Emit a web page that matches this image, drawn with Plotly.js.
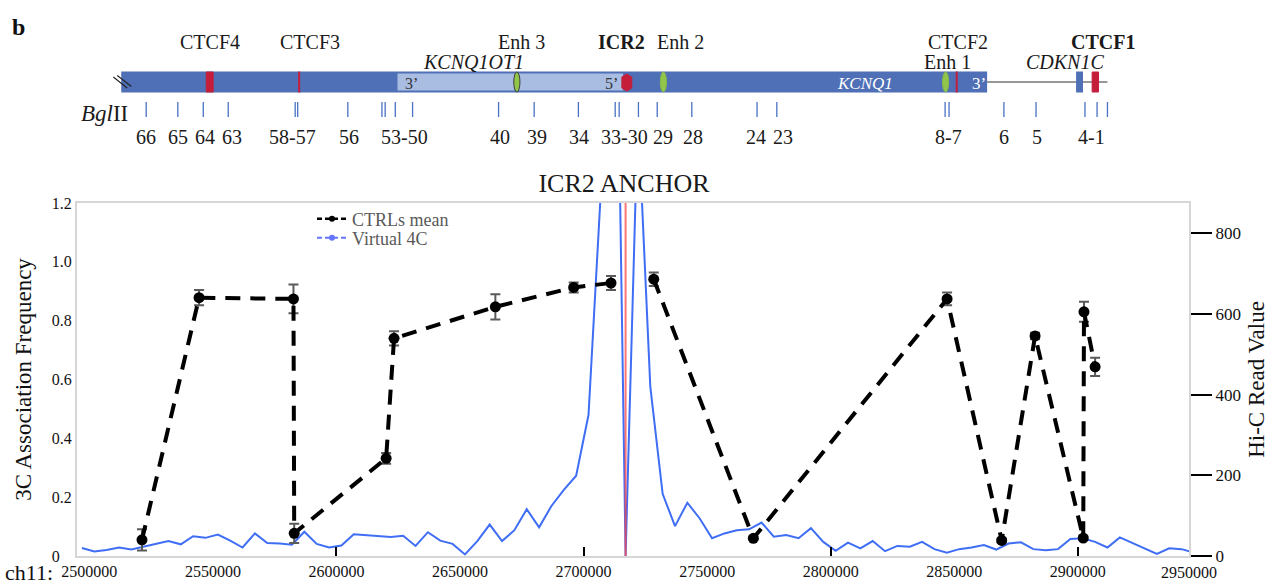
<!DOCTYPE html>
<html>
<head>
<meta charset="utf-8">
<script src="https://cdn.plot.ly/plotly-3.0.1.min.js"></script>
<style>
  html, body { margin: 0; padding: 0; background: #fff; }
  #chart { width: 1272px; height: 584px; }
</style>
</head>
<body>
<div id="chart"></div>
<script>
// ---------- 3C: mean association frequency of controls, per BglII fragment ----------
const c3cPos  = [2521300, 2544400, 2582600, 2582900, 2620100, 2623300, 2664300, 2696000, 2711100,
                 2717000, 2728400, 2768700, 2847100, 2869200, 2882700, 2902200, 2902500, 2907000];
const c3cMean = [0.055, 0.878, 0.874, 0.077, 0.332, 0.740, 0.847, 0.913, 0.928,
                 null, 0.941, 0.060, 0.874, 0.053, 0.748, 0.061, 0.830, 0.643];
const c3cErr  = [0.036, 0.026, 0.049, 0.033, 0.018, 0.024, 0.043, 0.017, 0.024,
                 null, 0.023, 0.006, 0.022, 0.006, 0.011, 0.006, 0.034, 0.031];

// ---------- Hi-C virtual 4C from the ICR2 bin (5 kb bins) ----------
const hicBins = [2497000, 2502000, 2507000, 2512000, 2517000, 2522000, 2527000, 2532000, 2537000, 2542000,
                 2547000, 2552000, 2557000, 2562000, 2567000, 2572000, 2577000, 2582000, 2587000, 2592000,
                 2597000, 2602000, 2607000, 2612000, 2617000, 2622000, 2627000, 2632000, 2637000, 2642000,
                 2647000, 2652000, 2657000, 2662000, 2667000, 2672000, 2677000, 2682000, 2687000, 2692000,
                 2697000, 2702000, 2707000, 2712000, 2717000, 2722000, 2727000, 2732000, 2737000, 2742000,
                 2747000, 2752000, 2757000, 2762000, 2767000, 2772000, 2777000, 2782000, 2787000, 2792000,
                 2797000, 2802000, 2807000, 2812000, 2817000, 2822000, 2827000, 2832000, 2837000, 2842000,
                 2847000, 2852000, 2857000, 2862000, 2867000, 2872000, 2877000, 2882000, 2887000, 2892000,
                 2897000, 2902000, 2907000, 2912000, 2917000, 2922000, 2927000, 2932000, 2937000, 2942000,
                 2947000];
const hicReads = [20, 11, 15, 21, 16, 23, 31, 37, 29, 49,
                  45, 53, 38, 21, 56, 32, 31, 28, 60, 30,
                  21, 26, 54, 52, 50, 47, 50, 25, 59, 38,
                  30, 4, 37, 78, 37, 64, 116, 71, 124, 164,
                  199, 350, 906, 2000, 0, 1100, 420, 154, 74, 132,
                  93, 44, 56, 64, 66, 83, 48, 52, 44, 69,
                  35, 13, 33, 19, 37, 12, 25, 23, 35, 17,
                  8, 17, 21, 27, 16, 31, 34, 17, 14, 17,
                  42, 44, 35, 21, 46, 32, 19, 5, 19, 17,
                  8];

const anchorPos = 2717000;   // ICR2 viewpoint

// ---------- axes ----------
const xRange = [2495000, 2945000];
const xTickVals = [2500000, 2550000, 2600000, 2650000, 2700000, 2750000, 2800000, 2850000, 2900000];
const xTickText = ['2500000', '2550000', '2600000', '2650000', '2700000', '2750000', '2800000', '2850000', '2900000'];
const xEdgeLabel = '2950000';
const xMarkVals = [2600000, 2700000, 2800000, 2900000];
const y3cTickVals = [0, 0.2, 0.4, 0.6, 0.8, 1.0, 1.2];
const y3cTickText = ['0\u2007\u2008', '0.2', '0.4', '0.6', '0.8', '1.0', '1.2'];
const yHicTickVals = [0, 200, 400, 600, 800];
const yHicTickText = ['0', '200', '400', '600', '800'];

// ---------- locus map (same genomic scale) ----------
const bglSites = [2523000, 2535800, 2546100, 2556200, 2583300, 2584300, 2604600, 2618400, 2619700, 2623800,
                  2630800, 2665600, 2680000, 2697900, 2712800, 2714400, 2722200, 2729800, 2743800, 2770200,
                  2778200, 2846300, 2847900, 2870100, 2883100, 2902900, 2907800, 2912000];
const bglNames = ['66', '65', '64', '63', '58-57', '56', '53-50', '40', '39', '34',
                  '33-30', '29', '28', '24', '23', '8-7', '6', '5', '4-1'];
const bglNamePos = [2522800, 2536000, 2546900, 2557600, 2582100, 2605200, 2627400, 2666200, 2681200, 2698200,
                    2716400, 2732200, 2744300, 2769800, 2780700, 2847500, 2870100, 2883400, 2905700];

const featTopNames = ['CTCF4', 'CTCF3', 'Enh 3', '<b>ICR2</b>', 'Enh 2', 'CTCF2', '<b>CTCF1</b>'];
const featTopPos   = [2548900, 2589400, 2674900, 2715400, 2739100, 2851500, 2910200];
const featLowNames = ['<i>KCNQ1OT1</i>', 'Enh 1', '<i>CDKN1C</i>'];
const featLowPos   = [2655300, 2847100, 2895000];

const kcnq1Span   = [2512900, 2863300];
const lncSpan     = [2624700, 2716000];
const flankLine   = [2863300, 2912000];
const cdkn1cExon  = [2899300, 2902100];
const ctcfBlockX0 = [2547300, 2905800];
const ctcfBlockX1 = [2550100, 2908400];
const ctcfThin    = [2584900, 2851000];
const enhCentres  = [2673000, 2732300, 2846500];
const icr2Span    = [2715500, 2719500];
const breakX0     = [2509700, 2511300];
const breakX1     = [2515300, 2517000];
const endLabels   = ['3\u2019', '5\u2019', '<i>KCNQ1</i>', '3\u2019'];
const endLabelPos = [2630400, 2711400, 2813900, 2860000];

// ---------- styling ----------
const FONT = 'Liberation Serif, Times New Roman, serif';
const FRAME = '#d6d6d6';
const BAR_BLUE = '#4f6fb6';
const SITE_BLUE = '#4a72c4';
const CTCF_RED = '#c41e3a';
const ENH_GREEN = '#92c64a';

const traces = [
  {
    x: hicBins, y: hicReads, xaxis: 'x', yaxis: 'y',
    type: 'scatter', mode: 'lines',
    line: { color: '#3f6ef5', width: 2 },
    showlegend: false, hoverinfo: 'skip'
  },
  {
    x: c3cPos, y: c3cMean, xaxis: 'x', yaxis: 'y2',
    type: 'scatter', mode: 'lines+markers', connectgaps: false,
    line: { color: '#000', width: 4, dash: '15px,10px' },
    marker: { color: '#000', size: 11 },
    error_y: { type: 'data', array: c3cErr, visible: true, color: '#5a5a5a', thickness: 2, width: 5 },
    showlegend: false, hoverinfo: 'skip'
  },
  // legend entries
  {
    x: [null], y: [null], xaxis: 'x', yaxis: 'y2', type: 'scatter', mode: 'lines+markers',
    name: 'CTRLs mean', legend: 'legend',
    line: { color: '#000', width: 2.5, dash: '5px,3px' }, marker: { color: '#000', size: 6 },
    hoverinfo: 'skip'
  },
  {
    x: [null], y: [null], xaxis: 'x', yaxis: 'y2', type: 'scatter', mode: 'lines+markers',
    name: 'Virtual 4C', legend: 'legend2',
    line: { color: '#6675ff', width: 2, dash: '5px,3px' }, marker: { color: '#6675ff', size: 6 },
    hoverinfo: 'skip'
  }
];

const shapes = [];
const annotations = [];
const mapShape = (o) => Object.assign({ xref: 'x2', yref: 'y3', layer: 'above' }, o);

// anchor line at the viewpoint
shapes.push({
  type: 'line', xref: 'x', yref: 'y domain', x0: anchorPos, x1: anchorPos, y0: 0, y1: 1,
  line: { color: 'rgba(255,70,70,0.75)', width: 2 }, layer: 'above'
});

// KCNQ1 block and KCNQ1OT1 transcript
shapes.push(mapShape({ type: 'line', x0: flankLine[0], x1: flankLine[1], y0: 82, y1: 82, line: { color: '#333', width: 1.2 } }));
shapes.push(mapShape({ type: 'rect', x0: kcnq1Span[0], x1: kcnq1Span[1], y0: 71.5, y1: 92.5, fillcolor: BAR_BLUE, line: { width: 0 } }));
shapes.push(mapShape({ type: 'rect', x0: lncSpan[0], x1: lncSpan[1], y0: 73.5, y1: 90.5, fillcolor: '#a9bce2', line: { width: 0 } }));
shapes.push(mapShape({ type: 'rect', x0: cdkn1cExon[0], x1: cdkn1cExon[1], y0: 71.5, y1: 92.5, fillcolor: BAR_BLUE, line: { width: 0 } }));
breakX0.forEach((x0, i) => shapes.push(mapShape({ type: 'line', x0: x0, x1: breakX1[i], y0: 77 - i * 1.5, y1: 88 - i * 1.5, line: { color: '#222', width: 1.1 } })));

// CTCF sites
ctcfBlockX0.forEach((x0, i) => shapes.push(mapShape({ type: 'rect', x0: x0, x1: ctcfBlockX1[i], y0: 72, y1: 92, fillcolor: CTCF_RED, line: { color: CTCF_RED, width: 1 } })));
ctcfThin.forEach(x => shapes.push(mapShape({ type: 'line', x0: x, x1: x, y0: 71.5, y1: 92.5, line: { color: CTCF_RED, width: 2 } })));

// enhancers
enhCentres.forEach((x, i) => shapes.push(mapShape({
  type: 'circle', x0: x - 1250, x1: x + 1250, y0: 72, y1: 92, fillcolor: ENH_GREEN,
  line: { color: i === 0 ? '#3c3c3c' : '#86b84a', width: 1 }
})));

// ICR2 (hexagon)
{
  const a = icr2Span[0], b = icr2Span[1], m = (a + b) / 2;
  shapes.push(mapShape({
    type: 'path', fillcolor: CTCF_RED, line: { color: CTCF_RED, width: 1 },
    path: `M${a},77 L${m},74 L${b},77 L${b},88 L${m},91 L${a},88 Z`
  }));
}

// BglII sites
bglSites.forEach(x => shapes.push(mapShape({ type: 'line', x0: x, x1: x, y0: 102, y1: 117, line: { color: SITE_BLUE, width: 1.3 } })));

const mapText = (text, x, y, size, color) => ({
  text: text, x: x, y: y, xref: 'x2', yref: 'y3', showarrow: false,
  xanchor: 'center', yanchor: 'middle', font: { family: FONT, size: size, color: color || '#1a1a1a' }
});
bglNames.forEach((t, i) => annotations.push(mapText(t, bglNamePos[i], 137, 20)));
featTopNames.forEach((t, i) => annotations.push(mapText(t, featTopPos[i], 42, 20)));
featLowNames.forEach((t, i) => annotations.push(mapText(t, featLowPos[i], 62, 20)));
endLabels.forEach((t, i) => annotations.push(mapText(t, endLabelPos[i], 83, i < 2 ? 16 : 17, i < 2 ? '#333' : '#fff')));

annotations.push({ text: '<i>Bgl</i>II', x: 2516300, y: 113, xref: 'x2', yref: 'y3', showarrow: false, xanchor: 'right', yanchor: 'middle', font: { family: FONT, size: 23, color: '#1a1a1a' } });
annotations.push({ text: '<b>b</b>', x: -0.053, y: 27, xref: 'paper', yref: 'y3', showarrow: false, xanchor: 'center', yanchor: 'middle', font: { family: FONT, size: 24, color: '#111' } });

const W = 1272, H = 584, ML = 77, MR = 83, MT = 0, MB = 28;
const plotW = W - ML - MR, plotH = H - MT - MB;

// x-axis prefix and the end label
annotations.push({ text: 'ch11:', x: (3 - ML) / plotW, y: (H - MB - 572) / plotH, xref: 'paper', yref: 'paper', showarrow: false, xanchor: 'left', yanchor: 'middle', font: { family: FONT, size: 22, color: '#111' } });
annotations.push({ text: xEdgeLabel, x: 1, y: 0, xref: 'paper', yref: 'paper', showarrow: false, xanchor: 'center', yanchor: 'top', yshift: -6, font: { family: FONT, size: 16, color: '#111' } });

const mainTop = (H - MB - 203) / plotH;
const mapBottom = (H - MB - 160) / plotH;

const layout = {
  width: W, height: H,
  margin: { l: ML, r: MR, t: MT, b: MB, autoexpand: false },
  paper_bgcolor: '#fff', plot_bgcolor: '#fff',
  font: { family: FONT, color: '#111' },
  hovermode: false,
  title: {
    text: 'ICR2 ANCHOR', font: { family: FONT, size: 26, color: '#1a1a1a' },
    x: 624 / W, xref: 'container', xanchor: 'center',
    y: 1 - 183 / H, yref: 'container', yanchor: 'middle'
  },
  xaxis: {
    domain: [0, 1], anchor: 'y', range: xRange,
    tickmode: 'array', tickvals: xTickVals, ticktext: xTickText, ticks: '',
    tickfont: { family: FONT, size: 16, color: '#111' },
    minor: { tickmode: 'array', tickvals: xMarkVals, ticks: 'inside', ticklen: 9, tickwidth: 2, tickcolor: '#000', showgrid: false },
    showline: true, mirror: true, linecolor: FRAME, linewidth: 2,
    showgrid: false, zeroline: false, fixedrange: true
  },
  yaxis: {
    domain: [0, mainTop], anchor: 'x', side: 'right', range: [0, 875],
    tickmode: 'array', tickvals: yHicTickVals, ticktext: yHicTickText,
    ticks: 'outside', ticklen: 21, tickwidth: 2, tickcolor: '#000',
    tickfont: { family: FONT, size: 17, color: '#111' },
    showline: true, linecolor: FRAME, linewidth: 2,
    showgrid: false, zeroline: false, fixedrange: true,
    title: { text: 'Hi-C Read Value', font: { family: FONT, size: 23, color: '#111' }, standoff: 8 }
  },
  yaxis2: {
    overlaying: 'y', anchor: 'x', side: 'left', range: [0, 1.2],
    tickmode: 'array', tickvals: y3cTickVals, ticktext: y3cTickText, ticks: '',
    tickfont: { family: FONT, size: 16, color: '#111' },
    showline: true, linecolor: FRAME, linewidth: 2,
    showgrid: false, zeroline: false, fixedrange: true,
    title: { text: '3C Association Frequency', font: { family: FONT, size: 23, color: '#111' }, standoff: 14 }
  },
  xaxis2: { domain: [0, 1], anchor: 'y3', range: xRange, visible: false, fixedrange: true },
  yaxis3: { domain: [mapBottom, 1], anchor: 'x2', range: [160, 0], visible: false, fixedrange: true },
  legend: {
    x: (312 - ML) / plotW, y: (H - MB - 219) / plotH, xanchor: 'left', yanchor: 'middle',
    bgcolor: 'rgba(0,0,0,0)', font: { family: FONT, size: 18, color: '#595959' }
  },
  legend2: {
    x: (312 - ML) / plotW, y: (H - MB - 238) / plotH, xanchor: 'left', yanchor: 'middle',
    bgcolor: 'rgba(0,0,0,0)', font: { family: FONT, size: 18, color: '#595959' }
  },
  shapes: shapes,
  annotations: annotations
};

Plotly.newPlot('chart', traces, layout, { staticPlot: true, displayModeBar: false });
</script>
</body>
</html>
